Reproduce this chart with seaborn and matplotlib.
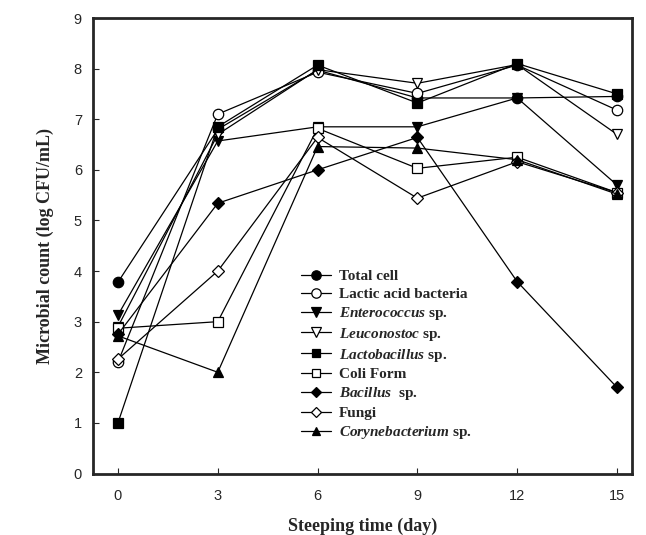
import matplotlib
matplotlib.use("Agg")
import matplotlib.pyplot as plt
import seaborn as sns
import pandas as pd

days = [0, 3, 6, 9, 12, 15]
total_cell = [3.78, 6.80, 7.97, 7.42, 7.42, 7.45]
lactic_acid = [2.20, 7.10, 7.93, 7.51, 8.07, 7.18]
enterococcus = [3.13, 6.57, 6.85, 6.85, 7.42, 5.70]
leuconostoc = [2.90, 6.70, 7.98, 7.71, 8.08, 6.70]
lactobacillus = [1.00, 6.85, 8.07, 7.32, 8.10, 7.50]
coli_form = [2.87, 3.00, 6.82, 6.03, 6.25, 5.55]
bacillus = [2.75, 5.34, 6.00, 6.64, 3.79, 1.70]
fungi = [2.26, 4.00, 6.64, 5.44, 6.16, 5.55]
corynebacterium = [2.72, 2.00, 6.46, 6.43, 6.20, 5.52]

labels = ["Total cell", "Lactic acid bacteria", r"$\mathit{Enterococcus}$ sp.",
          r"$\mathit{Leuconostoc}$ sp.", r"$\mathit{Lactobacillus}$ sp.", "Coli Form",
          r"$\mathit{Bacillus}$  sp.", "Fungi", r"$\mathit{Corynebacterium}$ sp."]
series = [total_cell, lactic_acid, enterococcus, leuconostoc, lactobacillus,
          coli_form, bacillus, fungi, corynebacterium]
markers = ["o", "o", "v", "v", "s", "s", "D", "D", "^"]
filled = [True, False, True, False, True, False, True, False, True]
msizes = [7.5, 7.5, 7.5, 7.5, 6.5, 6.5, 6.0, 6.0, 7.0]

sns.set_style("ticks")
plt.rcParams["mathtext.fontset"] = "custom"
plt.rcParams["mathtext.it"] = "Liberation Serif:bold:italic"
plt.rcParams["mathtext.rm"] = "Liberation Serif:bold"

fig = plt.figure(figsize=(6.46, 5.35), dpi=100)
ax = fig.add_axes([93 / 646, 1 - 473.5 / 535, (632 - 93) / 646, (473.5 - 18) / 535])

for lab, vals, m, f, ms in zip(labels, series, markers, filled, msizes):
    df = pd.DataFrame({"day": days, "count": vals})
    sns.lineplot(data=df, x="day", y="count", ax=ax, color="black", linewidth=0.9,
                 marker=m, markersize=ms, markeredgecolor="black", markeredgewidth=0.9,
                 markerfacecolor="black" if f else "white", label=lab)

ax.set_xlim(-0.75, 15.45)
ax.set_ylim(0, 9)
ax.set_xticks(days)
ax.set_yticks(range(0, 10))
for s in ax.spines.values():
    s.set_linewidth(2.0)
    s.set_visible(True)
ax.tick_params(direction="in", length=4, width=0.8, labelsize=10.5)
ax.tick_params(axis="x", pad=11)
ax.tick_params(axis="y", pad=8)
for t in ax.get_xticklabels() + ax.get_yticklabels():
    t.set_fontfamily("Liberation Sans")

ax.set_xlabel("Steeping time (day)", fontfamily="Liberation Serif", fontweight="bold",
              fontsize=13, labelpad=11)
ax.set_ylabel("Microbial count (log CFU/mL)", fontfamily="Liberation Serif",
              fontweight="bold", fontsize=13, labelpad=14)

leg = ax.legend(loc="upper left", bbox_to_anchor=(0.36, 0.478), frameon=False,
                prop={"family": "Liberation Serif", "weight": "bold", "size": 11},
                handlelength=2.0, labelspacing=0.26, handletextpad=0.5,
                markerscale=0.9)

fig.savefig("out.png", dpi=100)
